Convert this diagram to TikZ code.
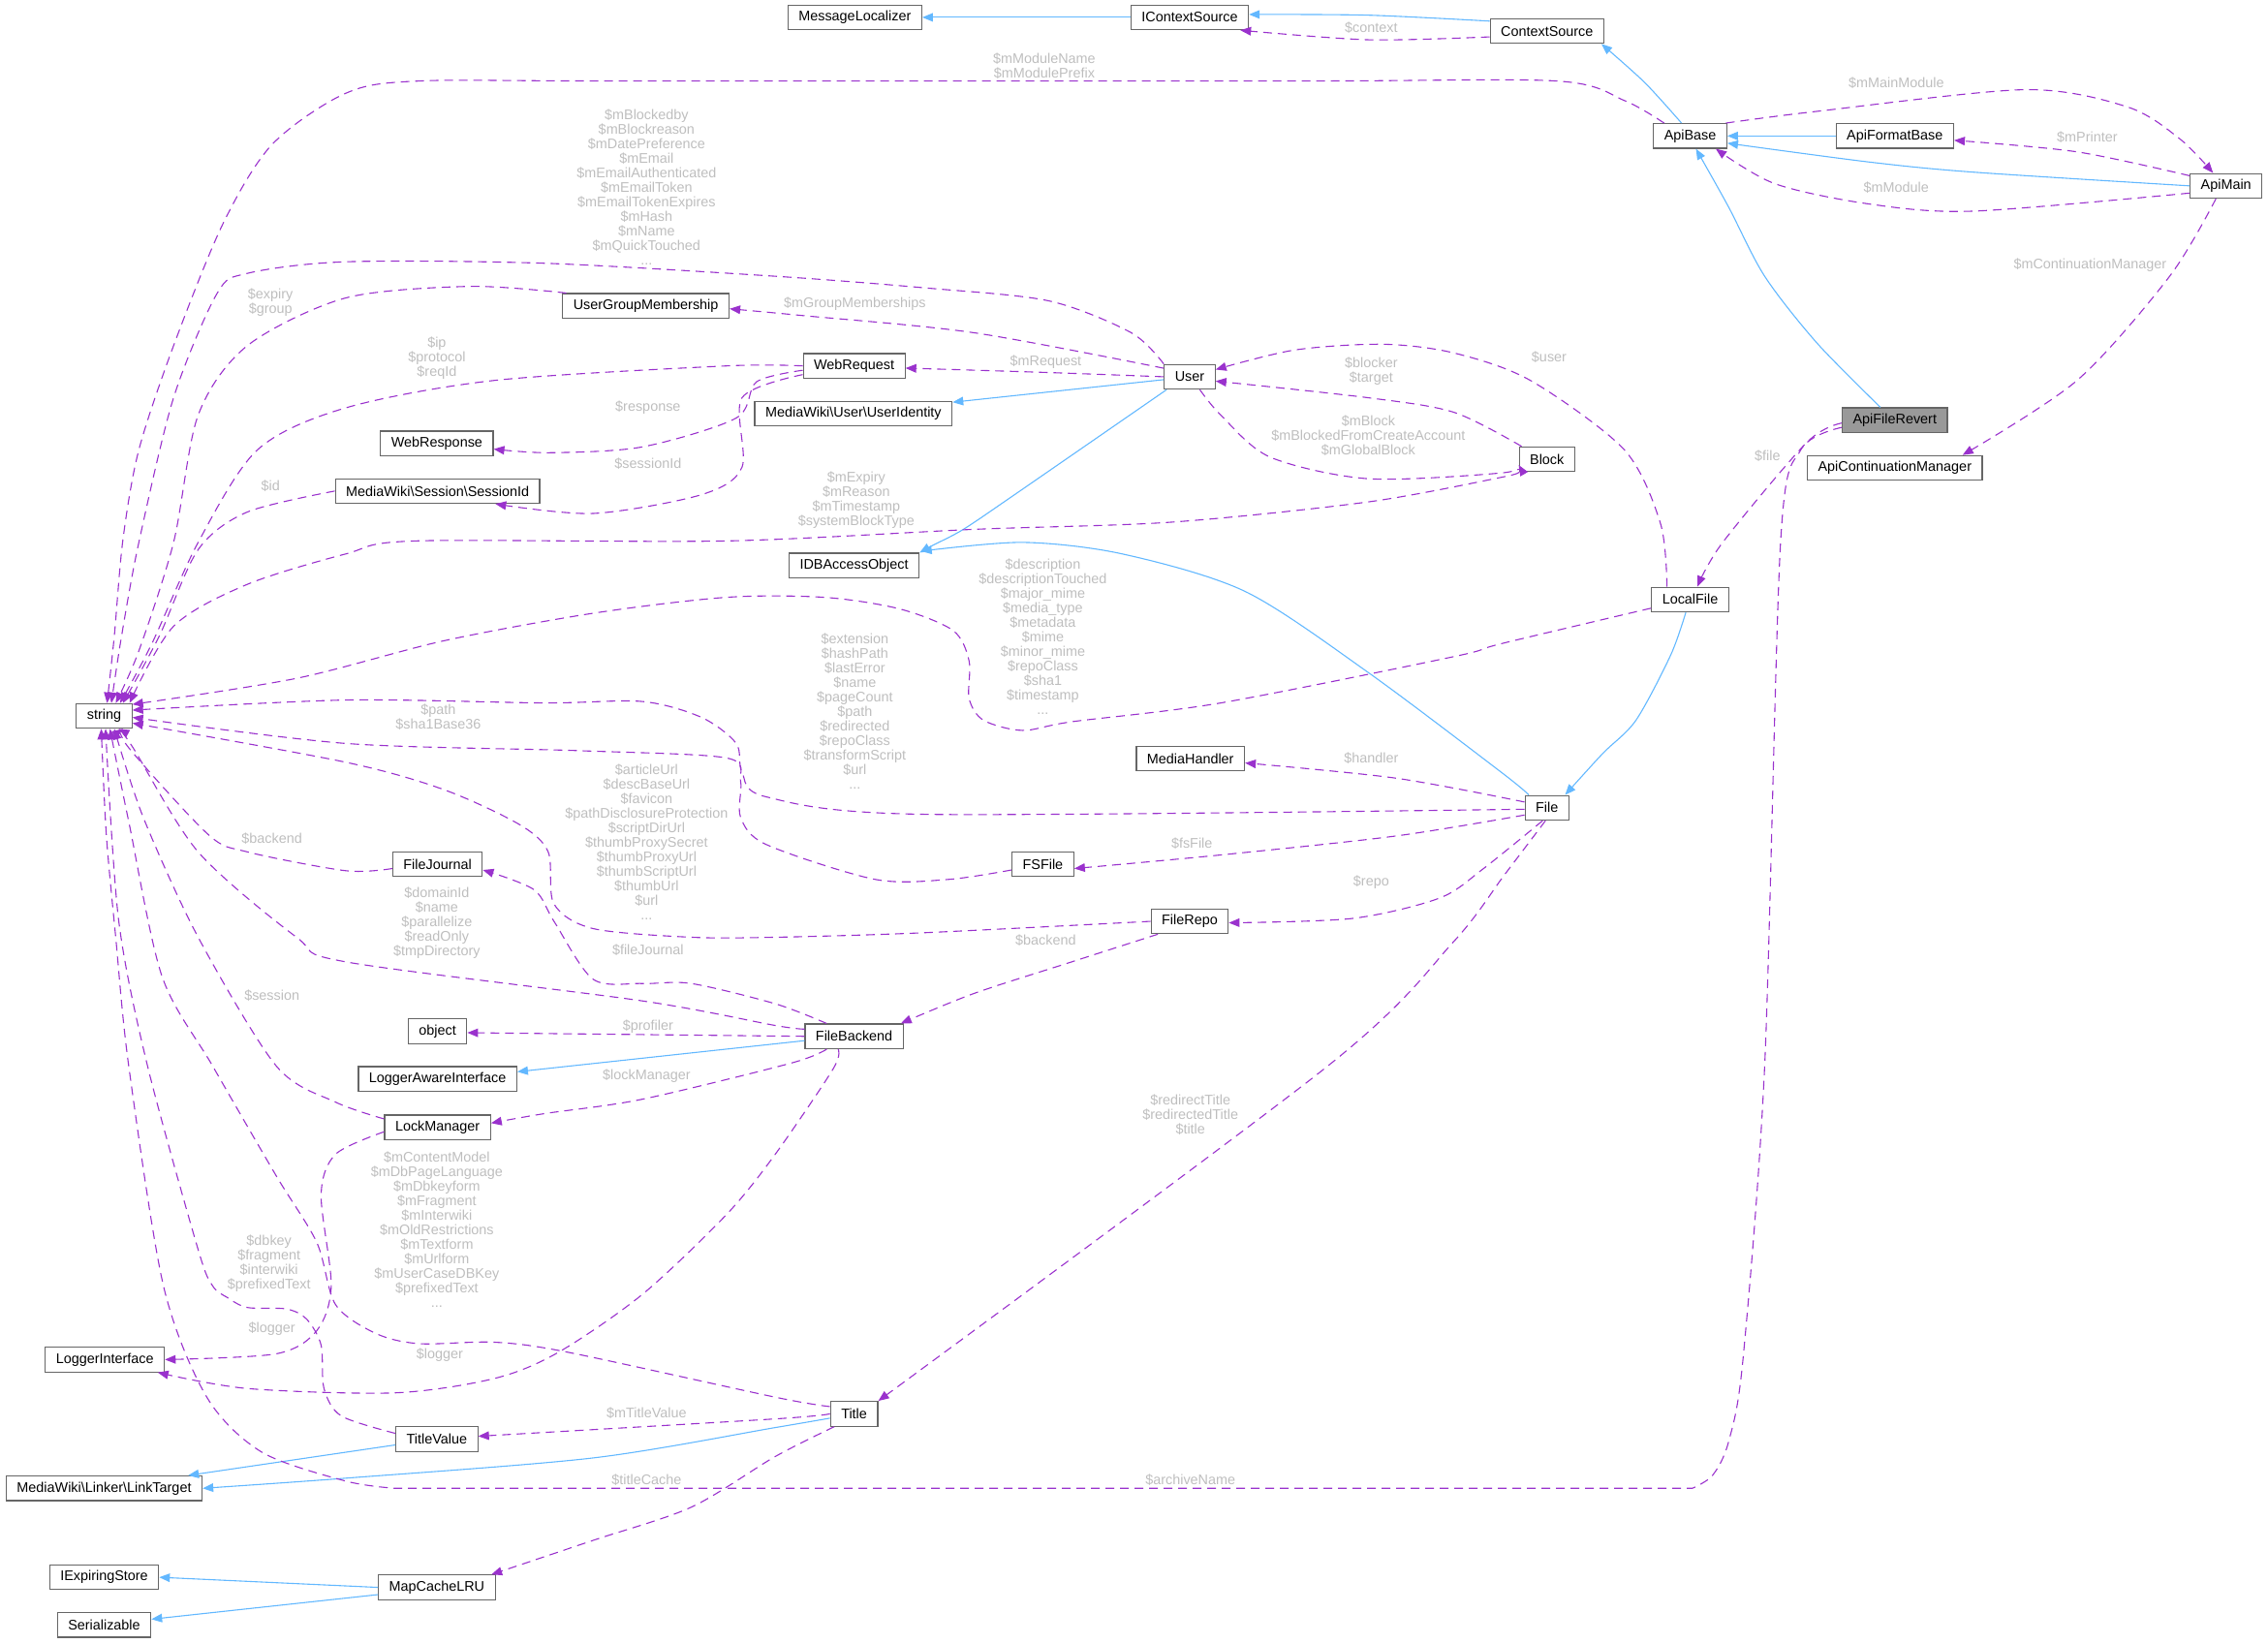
\documentclass[tikz,border=0pt]{standalone}
\usepackage{fontspec}
\setmainfont{Liberation Sans}
\usetikzlibrary{arrows.meta}
\definecolor{inhblue}{HTML}{63B8FF}
\definecolor{usepurple}{HTML}{9A32CD}
\definecolor{edgegrey}{HTML}{BEBEBE}
\definecolor{boxgrey}{HTML}{666666}
\definecolor{curfill}{HTML}{999999}

\begin{document}
\begin{tikzpicture}[x=0.7465pt, y=-0.7465pt,
    cls/.style={draw=boxgrey, line width=0.6pt, fill=white, minimum height=12.7pt,
      inner xsep=5.5pt, inner ysep=0pt, font=\fontsize{7.2}{7.5}\selectfont},
    cur/.style={cls, fill=curfill},
    inh/.style={draw=inhblue, line width=0.55pt, -{Triangle[length=5.5pt,width=4.4pt]}},
    usage/.style={draw=usepurple, line width=0.55pt, dash pattern=on 4.5pt off 3pt,
      -{Triangle[length=5.5pt,width=4.4pt]}},
    lbl/.style={text=edgegrey, font=\fontsize{7.2}{7.5}\selectfont, align=center, inner sep=0pt}]
                    % \helpgrid{1568}{1136}
    \useasboundingbox (0,0) rectangle (1568,1136);

    \node[cls] (msgLoc) at (591,12) {MessageLocalizer};
    \node[cls] (ictxSrc) at (822.5,12) {IContextSource};
    \node[cls] (ctxSrc) at (1069.5,21.5) {ContextSource};
    \node[cls] (apiBase) at (1168.5,94) {ApiBase};
    \node[cls] (apiFmt) at (1310,94) {ApiFormatBase};
    \node[cls] (apiMain) at (1539,128.5) {ApiMain};
    \node[cur] (apiRevert) at (1310,290.5) {ApiFileRevert};
    \node[cls] (apiCont) at (1310,323.5) {ApiContinuationManager};
    \node[cls] (ugm) at (446.5,211.5) {UserGroupMembership};
    \node[cls] (webReq) at (590.5,253) {WebRequest};
    \node[cls] (user) at (822.5,260.5) {User};
    \node[cls] (userId) at (590,286) {MediaWiki\textbackslash User\textbackslash UserIdentity};
    \node[cls] (webResp) at (302,306.5) {WebResponse};
    \node[cls] (sessId) at (302.5,339.5) {MediaWiki\textbackslash Session\textbackslash SessionId};
    \node[cls] (block) at (1069.5,317.5) {Block};
    \node[cls] (dbAccess) at (590.5,391) {IDBAccessObject};
    \node[cls] (localFile) at (1168.5,414.5) {LocalFile};
    \node[cls] (str) at (72,495) {string};
    \node[cls] (mediaH) at (823,524.5) {MediaHandler};
    \node[cls] (file) at (1069.5,558.5) {File};
    \node[cls] (fsFile) at (721,597.5) {FSFile};
    \node[cls] (fileJournal) at (302.5,597.5) {FileJournal};
    \node[cls] (fileRepo) at (822.5,637) {FileRepo};
    \node[cls] (obj) at (302.5,713) {object};
    \node[cls] (fileBackend) at (590.5,716.5) {FileBackend};
    \node[cls] (logAware) at (302.5,746) {LoggerAwareInterface};
    \node[cls] (lockMgr) at (302.5,779.5) {LockManager};
    \node[cls] (logIface) at (72.5,940) {LoggerInterface};
    \node[cls] (titleVal) at (302,995) {TitleValue};
    \node[cls] (title) at (590.5,977.5) {Title};
    \node[cls] (linkTarget) at (72,1029) {MediaWiki\textbackslash Linker\textbackslash LinkTarget};
    \node[cls] (expStore) at (72,1090.5) {IExpiringStore};
    \node[cls] (serial) at (72,1123.5) {Serializable};
    \node[cls] (mapCache) at (302,1097.5) {MapCacheLRU};

    % inheritance
    \draw[inh] (ictxSrc.west) -- (msgLoc.east);
    \draw[inh] plot[smooth] coordinates {([shift={(0,2)}]ctxSrc.north west) (946,10.5) ([shift={(0,-2)}]ictxSrc.east)};
    \draw[inh] plot[smooth] coordinates {([shift={(-6,0)}]apiBase.north) (1137,57) ([shift={(-2,0)}]ctxSrc.south east)};
    \draw[inh] (apiFmt.west) -- (apiBase.east);
    \draw[inh] plot[smooth] coordinates {(apiMain.west) (1364,119) (1292,112) ([shift={(0,5)}]apiBase.east)};
    \draw[inh] plot[smooth] coordinates {([shift={(-10,0)}]apiRevert.north) (1256,237) (1220,191) (1195,143) ([shift={(4,0)}]apiBase.south)};
    \draw[inh] ([shift={(0,2)}]user.west) -- ([shift={(0,1)}]userId.north east);
    \draw[inh] plot[smooth] coordinates {([shift={(2,0)}]user.south west) (700,343) (666,366) (645,377) (dbAccess.north east)};
    \draw[inh] plot[smooth] coordinates {([shift={(3,0)}]file.north west) (1038,534) (946,465) (861,409) (776,383) (707,375) ([shift={(1,-1)}]dbAccess.north east)};
    \draw[inh] plot[smooth] coordinates {([shift={(-3,0)}]localFile.south) (1155,453) (1131,498) (1108,521) ([shift={(-3,0)}]file.north east)};
    \draw[inh] ([shift={(0,3)}]fileBackend.west) -- ([shift={(0,-5)}]logAware.east);
    \draw[inh] ([shift={(0,4)}]titleVal.west) -- ([shift={(-10,0)}]linkTarget.north east);
    \draw[inh] plot[smooth] coordinates {([shift={(0,3)}]title.west) (536,987) (410,1008) (239,1022) (linkTarget.east)};
    \draw[inh] (mapCache.west) -- (expStore.east);
    \draw[inh] ([shift={(0,5)}]mapCache.west) -- ([shift={(0,-4)}]serial.east);

    % members
    \draw[usage] plot[smooth] coordinates {([shift={(0,4)}]ctxSrc.west) (946,27.5) ([shift={(-6,0)}]ictxSrc.south east)};
    \draw[usage] plot[smooth] coordinates {([shift={(-18,0)}]apiBase.north) (1123,69.5) (1076,56) (900,56) (430,56) (290,56) (239,64.5) (188,100) (154,155) (120,239) (96,311) (85,373) (79,440) ([shift={(2,0)}]str.north)};
    \draw[usage] plot[smooth] coordinates {([shift={(-1,0)}]apiBase.north east) (1256,77) (1400,62) (1471,74) (1507,96) ([shift={(-9,0)}]apiMain.north)};
    \draw[usage] plot[smooth] coordinates {([shift={(0,-7)}]apiMain.west) (1436,105) ([shift={(0,3)}]apiFmt.east)};
    \draw[usage] plot[smooth] coordinates {([shift={(0,5)}]apiMain.west) (1364,146) (1292,141) (1227,127) ([shift={(-8,0)}]apiBase.south east)};
    \draw[usage] plot[smooth] coordinates {([shift={(-7,0)}]apiMain.south) (1500,191) (1436,263) ([shift={(-14,0)}]apiCont.north east)};
    \draw[usage] plot[smooth] coordinates {([shift={(0,2)}]apiRevert.west) (1249,306) (1191,375) ([shift={(5,0)}]localFile.north)};
    \draw[usage] plot[smooth] coordinates {([shift={(0,5)}]apiRevert.west) (1245,311) (1231,375) (1220,737) (1205,940) (1195,997) (1184,1020) (1170,1029)}
      -- (300,1029) -- plot[smooth] coordinates {(273,1029) (239,1024) (181,1004) (143,966) (113,889) (89,737) (80,648) (73.5,577) ([shift={(-2,0)}]str.south)};
    \draw[usage] plot[smooth] coordinates {(user.north west) (782,230) (725,208) (639,199) (536,191) (376,182) (239,181) (171,189) (150,203) (120,275) (96,375) (84,440) ([shift={(5,0)}]str.north)};
    \draw[usage] plot[smooth] coordinates {([shift={(0,3)}]user.north west) (673,230) (553,218) ([shift={(0,2)}]ugm.east)};
    \draw[usage] plot[smooth] coordinates {(user.west) (723,257.5) ([shift={(0,1.5)}]webReq.east)};
    \draw[usage] plot[smooth] coordinates {([shift={(2,0)}]block.north west) (1005,285) (946,275) ([shift={(0,3)}]user.east)};
    \draw[usage] plot[smooth] coordinates {([shift={(7,0)}]user.south) (844,287) (878,316) (946,331) (1038,327) ([shift={(0,4)}]block.west)};
    \draw[usage] plot[smooth] coordinates {([shift={(-16,0)}]localFile.north) (1148,362) (1123,311) (1058,263) (1005,244) (956,238) (895,242) ([shift={(0,-5)}]user.east)};
    \draw[usage] plot[smooth] coordinates {([shift={(3,0)}]ugm.north west) (325,198) (239,206) (171,239) (137,287) (120,375) (96,450) ([shift={(8,0)}]str.north)};
    \draw[usage] plot[smooth] coordinates {(webReq.west) (502,253) (342,263) (239,282) (178,311) (137,375) (105,445) ([shift={(11,0)}]str.north)};
    \draw[usage] plot[smooth] coordinates {([shift={(0,3)}]webReq.west) (523,264) (509,289) (444,309) (380,313) ([shift={(0,4)}]webResp.east)};
    \draw[usage] plot[smooth] coordinates {([shift={(0,6)}]webReq.west) (513,275) (513,323) (485,342) (410,355) ([shift={(-31,0)}]sessId.south east)};
    \draw[usage] plot[smooth] coordinates {(sessId.west) (171,354) (137,380) (110,440) ([shift={(13,0)}]str.north)};
    \draw[usage] plot[smooth] coordinates {(block.south west) (1038,330) (946,347) (810,361) (673,366) (502,374) (287,374) (239,383) (171,404) (120,433) ([shift={(-2,0)}]str.north east)};
    \draw[usage] plot[smooth] coordinates {([shift={(0,6)}]localFile.west) (1038,445) (1005,454) (844,486) (741,499) (707,505) (680,498) (670,483) (670,457) (659,436) (622,421) (570,413) (502,413) (410,424) (307,443) (205,469) ([shift={(0,-8)}]str.east)};
    \draw[usage] plot[smooth] coordinates {([shift={(0,1)}]file.west) (639,563) (530,551) (513,534) (509,514) (485,496) (444,485) (376,486) (239,484) ([shift={(0,-4)}]str.east)};
    \draw[usage] plot[smooth] coordinates {([shift={(0,-4)}]file.west) (965,538) ([shift={(0,3)}]mediaH.east)};
    \draw[usage] plot[smooth] coordinates {([shift={(0,5)}]file.west) (965,578) (845,591) ([shift={(0,3)}]fsFile.east)};
    \draw[usage] plot[smooth] coordinates {([shift={(-3,0)}]file.south) (1025,601) (995,621) (935,635) ([shift={(0,1)}]fileRepo.east)};
    \draw[usage] plot[smooth] coordinates {([shift={(-1,0)}]file.south) (1040,605) (1005,651) (918,737) (title.north east)};
    \draw[usage] plot[smooth] coordinates {([shift={(0,4)}]fsFile.west) (656,608) (605,608) (530,584) (512,565) (512,540) (502,524) (400,519) (239,514) ([shift={(0,1)}]str.east)};
    \draw[usage] plot[smooth] coordinates {(fileRepo.west) (636,645) (536,648) (478,648) (410,642) (383,625) (379,589) (359,570) (307,546) (239,527) ([shift={(0,5)}]str.east)};
    \draw[usage] plot[smooth] coordinates {([shift={(-22,0)}]fileRepo.south) (741,665) (673,687) ([shift={(-2,0)}]fileBackend.north east)};
    \draw[usage] plot[smooth] coordinates {([shift={(0,3)}]fileJournal.west) (239,602) (171,589) (144,577) (89,517) ([shift={(13,0)}]str.south)};
    \draw[usage] plot[smooth] coordinates {([shift={(-19,0)}]fileBackend.north) (536,694) (478,680) (444,680) (410,677) (383,637) (369,615) ([shift={(0,4)}]fileJournal.east)};
    \draw[usage] plot[smooth] coordinates {([shift={(0,-5)}]fileBackend.west) (536,709) (444,692) (239,665) (205,648) (137,589) (92,517) ([shift={(10,0)}]str.south)};
    \draw[usage] (fileBackend.west) -- ([shift={(0,1)}]obj.east);
    \draw[usage] plot[smooth] coordinates {([shift={(-19,0)}]fileBackend.south) (547,735) (444,760) (376,770) ([shift={(0,-3)}]lockMgr.east)};
    \draw[usage] plot[smooth] coordinates {([shift={(-11,0)}]fileBackend.south) (576,739) (536,798) (502,840) (444,895) (386,935) (342,953) (273,963) (171,960) ([shift={(-5,0)}]logIface.south east)};
    \draw[usage] plot[smooth] coordinates {([shift={(0,3)}]lockMgr.north west) (232,762) (191,737) (137,648) (99,565) ([shift={(7,0)}]str.south)};
    \draw[usage] plot[smooth] coordinates {([shift={(0,3)}]lockMgr.west) (232,798) (222,826) (229,889) (219,920) (191,936) (logIface.east)};
    \draw[usage] plot[smooth] coordinates {([shift={(0,-5)}]title.west) (536,966) (393,935) (342,928) (290,929) (260,922) (232,902) (219,859) (191,813) (147,737) (112,675) (89,568) ([shift={(4,0)}]str.south)};
    \draw[usage] plot[smooth] coordinates {(title.west) (536,981) ([shift={(0,-2)}]titleVal.east)};
    \draw[usage] plot[smooth] coordinates {([shift={(0,-4)}]titleVal.west) (236,979) (224,960) (222,930) (212,912) (198,905) (171,904) (157,897) (147,889) (137,864) (102,737) (82,636) ([shift={(1,0)}]str.south)};
    \draw[usage] plot[smooth] coordinates {([shift={(3,0)}]title.south west) (536,1007) (478,1042) (410,1065) ([shift={(-3,0)}]mapCache.north east)};

    % member names
    \node[lbl] (lContext) at (948,19) {\$context};
    \node[lbl] (lModule) at (722,45.5) {\$mModuleName\\\$mModulePrefix};
    \node[lbl] (lMain) at (1311,57.5) {\$mMainModule};
    \node[lbl] (lPrinter) at (1443,95) {\$mPrinter};
    \node[lbl] (lMod) at (1311,129.5) {\$mModule};
    \node[lbl] (lCont) at (1445,183) {\$mContinuationManager};
    \node[lbl] (lUserStr) at (447,129.5) {\$mBlockedby\\\$mBlockreason\\\$mDatePreference\\\$mEmail\\\$mEmailAuthenticated\\\$mEmailToken\\\$mEmailTokenExpires\\\$mHash\\\$mName\\\$mQuickTouched\\...};
    \node[lbl] (lExpiry) at (187,209) {\$expiry\\\$group};
    \node[lbl] (lGroups) at (591,210) {\$mGroupMemberships};
    \node[lbl] (lIp) at (302,247.5) {\$ip\\\$protocol\\\$reqId};
    \node[lbl] (lRequest) at (723,250.5) {\$mRequest};
    \node[lbl] (lResponse) at (448,282) {\$response};
    \node[lbl] (lSession) at (448,320.5) {\$sessionId};
    \node[lbl] (lId) at (187,336) {\$id};
    \node[lbl] (lBlocker) at (948,256.5) {\$blocker\\\$target};
    \node[lbl] (lBlock) at (946,301) {\$mBlock\\\$mBlockedFromCreateAccount\\\$mGlobalBlock};
    \node[lbl] (lUser) at (1071,247) {\$user};
    \node[lbl] (lFile) at (1222,315) {\$file};
    \node[lbl] (lExpStr) at (592,345.5) {\$mExpiry\\\$mReason\\\$mTimestamp\\\$systemBlockType};
    \node[lbl] (lDesc) at (721,440) {\$description\\\$descriptionTouched\\\$major\_mime\\\$media\_type\\\$metadata\\\$mime\\\$minor\_mime\\\$repoClass\\\$sha1\\\$timestamp\\...};
    \node[lbl] (lExt) at (591,491.5) {\$extension\\\$hashPath\\\$lastError\\\$name\\\$pageCount\\\$path\\\$redirected\\\$repoClass\\\$transformScript\\\$url\\...};
    \node[lbl] (lHandler) at (948,524) {\$handler};
    \node[lbl] (lPath) at (303,495.5) {\$path\\\$sha1Base36};
    \node[lbl] (lRepoStr) at (447,582) {\$articleUrl\\\$descBaseUrl\\\$favicon\\\$pathDisclosureProtection\\\$scriptDirUrl\\\$thumbProxySecret\\\$thumbProxyUrl\\\$thumbScriptUrl\\\$thumbUrl\\\$url\\...};
    \node[lbl] (lFsFile) at (824,583) {\$fsFile};
    \node[lbl] (lRepo) at (948,610) {\$repo};
    \node[lbl] (lJrnBackend) at (188,580) {\$backend};
    \node[lbl] (lRepoBackend) at (723,650) {\$backend};
    \node[lbl] (lJournal) at (448,657) {\$fileJournal};
    \node[lbl] (lDomain) at (302,638) {\$domainId\\\$name\\\$parallelize\\\$readOnly\\\$tmpDirectory};
    \node[lbl] (lProfiler) at (448,710) {\$profiler};
    \node[lbl] (lSessStr) at (188,688.5) {\$session};
    \node[lbl] (lLockMgr) at (447,744) {\$lockManager};
    \node[lbl] (lTitleStr) at (302,850) {\$mContentModel\\\$mDbPageLanguage\\\$mDbkeyform\\\$mFragment\\\$mInterwiki\\\$mOldRestrictions\\\$mTextform\\\$mUrlform\\\$mUserCaseDBKey\\\$prefixedText\\...};
    \node[lbl] (lDbkey) at (186,873.5) {\$dbkey\\\$fragment\\\$interwiki\\\$prefixedText};
    \node[lbl] (lLogLock) at (188,918.5) {\$logger};
    \node[lbl] (lLogBackend) at (304,936.5) {\$logger};
    \node[lbl] (lTitle) at (823,771) {\$redirectTitle\\\$redirectedTitle\\\$title};
    \node[lbl] (lTitleVal) at (447,977) {\$mTitleValue};
    \node[lbl] (lCache) at (447,1023.5) {\$titleCache};
    \node[lbl] (lArchive) at (823,1023.5) {\$archiveName};

\end{tikzpicture}
\end{document}
